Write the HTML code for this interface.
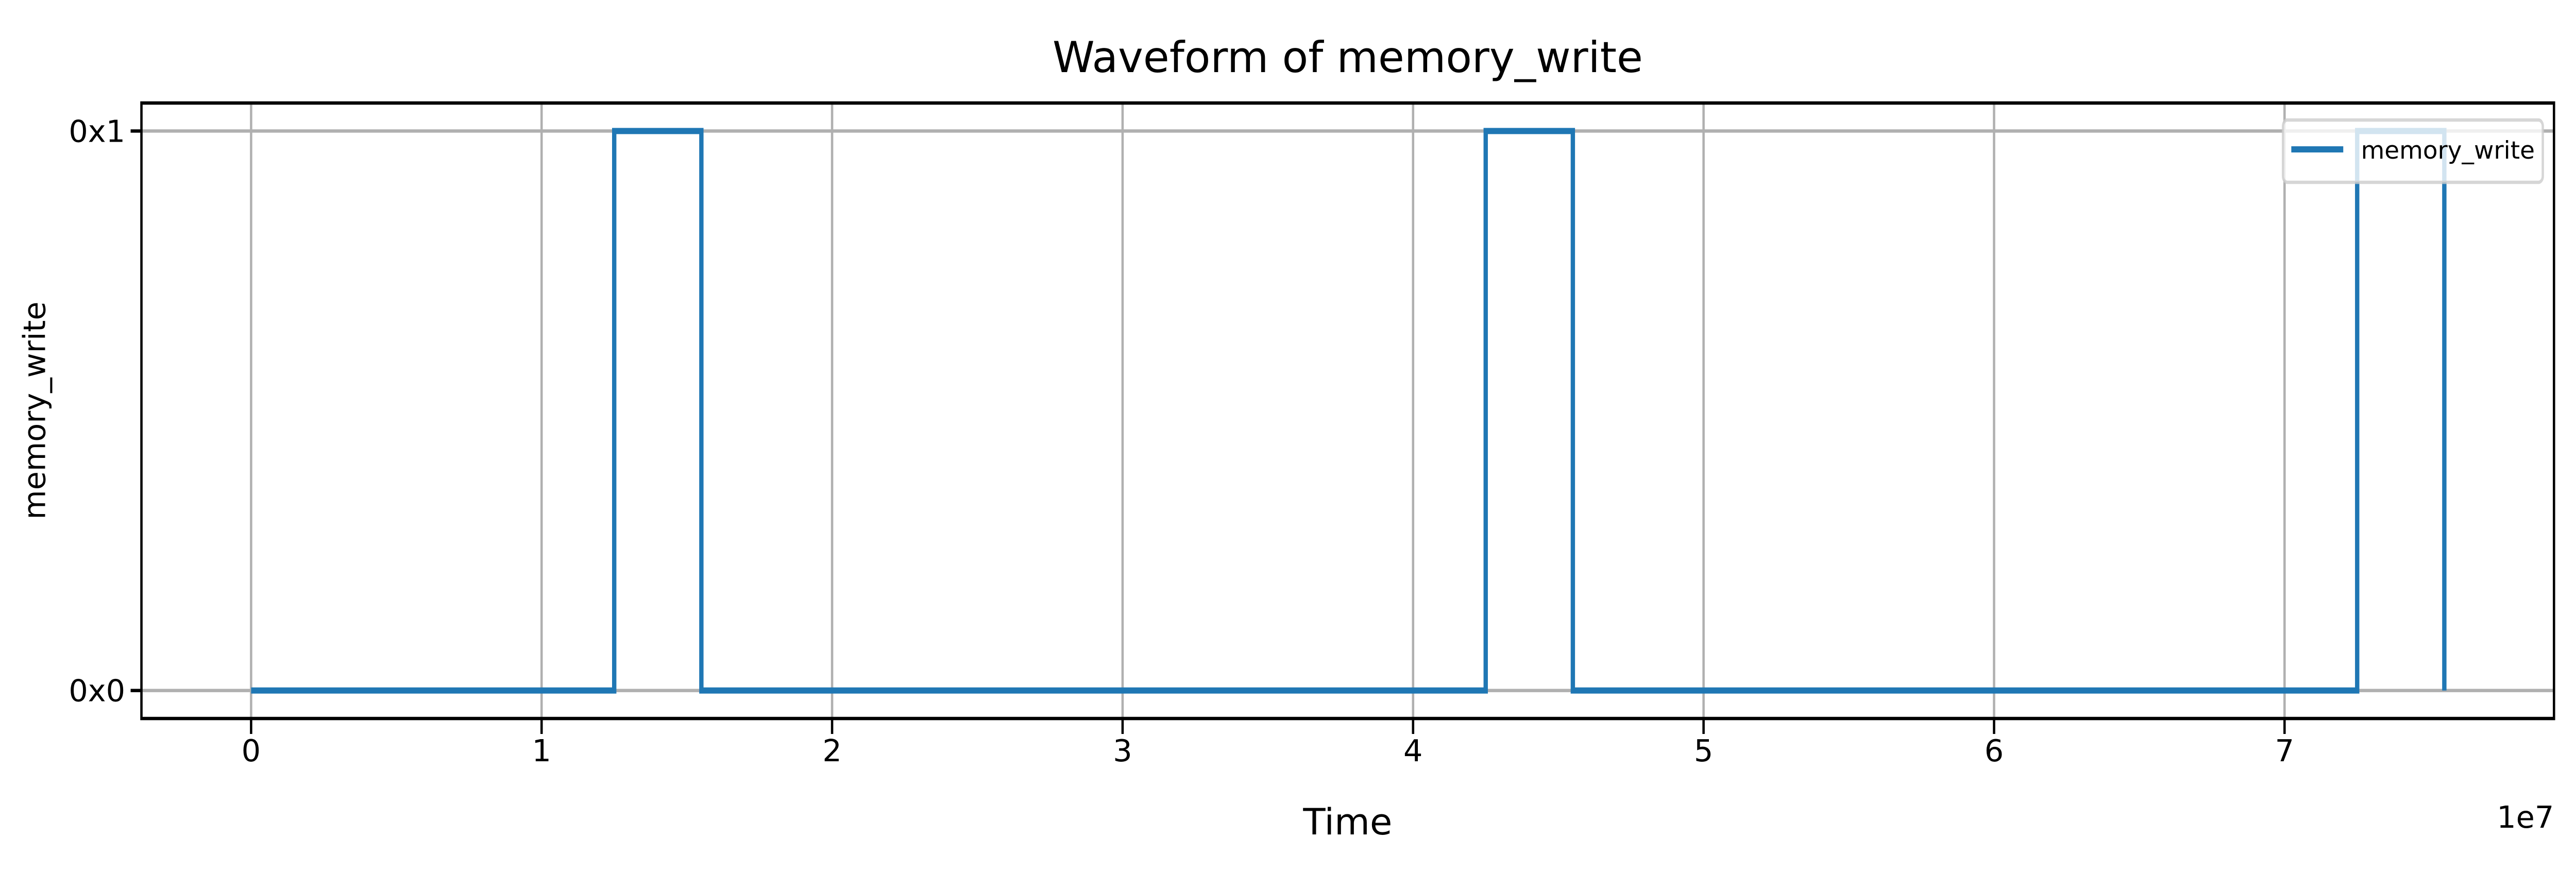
<!DOCTYPE html>
<html><head><meta charset="utf-8"><style>
html,body{margin:0;padding:0;background:#fff;width:100%;height:100%;overflow:hidden;}
svg{display:block;width:100vw;height:100vh;font-family:"DejaVu Sans","Liberation Sans",sans-serif;}
</style></head><body>
<svg id="chart" viewBox="0 0 7139 1726" preserveAspectRatio="none" xmlns="http://www.w3.org/2000/svg">
<rect width="7139" height="1726" fill="#fff"/>
<g id="grid"></g>
<g id="series"></g>
<rect x="392" y="200" width="6686" height="1195" fill="none" stroke="#000" stroke-width="6.5"/>
<g id="ticks"></g>
<text class="fx" x="3735" y="140" font-size="118" text-anchor="middle">Waveform of memory_write</text>
<text class="fx" x="3735" y="1620" font-size="101" text-anchor="middle">Time</text>
<text id="ylab" x="0" y="0" font-size="84" text-anchor="middle">memory_write</text>
<text class="fx" x="7078" y="1607" font-size="84" text-anchor="end">1e7</text>
<g>
<rect x="6327" y="233" width="720" height="121" rx="12" fill="#fff" fill-opacity="0.8" stroke="#cccccc" stroke-opacity="0.8" stroke-width="6.5"/>
<line x1="6350" y1="290" x2="6494" y2="290" stroke="#1f77b4" stroke-width="12"/>
<text class="fx" x="6543" y="308" font-size="67">memory_write</text>
</g>
</svg>
<script>
const transitionTimes = [0, 1.25e7, 1.55e7, 4.25e7, 4.55e7, 7.25e7, 7.55e7];
const stateValues = [0, 1, 0, 1, 0, 1, 0];
const xTickValues = [0, 1, 2, 3, 4, 5, 6, 7];
const yTickValues = [0, 1];
const yTickLabels = ["0x0", "0x1"];

const NS = "http://www.w3.org/2000/svg";
const X0 = 392, X1 = 7078, Y0 = 1395, Y1 = 200;
const xMin = -0.3775e7, xMax = 7.9275e7;
const yMin = -0.05, yMax = 1.05;
function xs(v){ return X0 + (v - xMin) / (xMax - xMin) * (X1 - X0); }
function ys(v){ return Y0 - (v - yMin) / (yMax - yMin) * (Y0 - Y1); }

const grid = document.getElementById('grid');
const ticks = document.getElementById('ticks');
xTickValues.forEach(t => {
  const x = xs(t * 1e7);
  const g = document.createElementNS(NS, 'line');
  g.setAttribute('x1', x); g.setAttribute('x2', x); g.setAttribute('y1', Y1); g.setAttribute('y2', Y0);
  g.setAttribute('stroke', '#b0b0b0'); g.setAttribute('stroke-width', '6.5');
  
  
  grid.appendChild(g);
  const tk = document.createElementNS(NS, 'line');
  tk.setAttribute('x1', x); tk.setAttribute('x2', x); tk.setAttribute('y1', Y0); tk.setAttribute('y2', Y0 + 30);
  tk.setAttribute('stroke', '#000'); tk.setAttribute('stroke-width', '6.5');
  
  
  ticks.appendChild(tk);
  const lb = document.createElementNS(NS, 'text');
  lb.setAttribute('x', x); lb.setAttribute('y', 1478);
  lb.setAttribute('font-size', '84'); lb.setAttribute('text-anchor', 'middle');
  lb.setAttribute('class', 'fx');
  lb.textContent = String(t);
  
  
  ticks.appendChild(lb);
});
yTickValues.forEach((v, i) => {
  const y = ys(v);
  const g = document.createElementNS(NS, 'line');
  g.setAttribute('x1', X0); g.setAttribute('x2', X1); g.setAttribute('y1', y); g.setAttribute('y2', y);
  g.setAttribute('stroke', '#b0b0b0'); g.setAttribute('stroke-width', '6.5');
  
  
  grid.appendChild(g);
  const tk = document.createElementNS(NS, 'line');
  tk.setAttribute('x1', X0 - 30); tk.setAttribute('x2', X0); tk.setAttribute('y1', y); tk.setAttribute('y2', y);
  tk.setAttribute('stroke', '#000'); tk.setAttribute('stroke-width', '6.5');
  
  
  ticks.appendChild(tk);
  const lb = document.createElementNS(NS, 'text');
  lb.setAttribute('x', X0 - 45); lb.setAttribute('y', y + 21);
  lb.setAttribute('font-size', '84'); lb.setAttribute('text-anchor', 'end');
  lb.setAttribute('class', 'fx');
  lb.textContent = yTickLabels[i];
  
  
  ticks.appendChild(lb);
});

let d = '';
for (let i = 0; i < transitionTimes.length; i++) {
  const x = xs(transitionTimes[i]);
  if (i === 0) d += 'M' + x + ' ' + ys(stateValues[0]);
  else d += ' L' + x + ' ' + ys(stateValues[i - 1]) + ' L' + x + ' ' + ys(stateValues[i]);
}
const path = document.createElementNS(NS, 'path');
path.setAttribute('d', d);
path.setAttribute('fill', 'none'); path.setAttribute('stroke', '#1f77b4'); path.setAttribute('stroke-width', '12');


document.getElementById('series').appendChild(path);

// compensate anisotropic viewport stretch: keep natural glyph proportions at matching width
const vw = window.innerWidth || 7139, vh = window.innerHeight || 1726;
let sx = (vw / 7139) / (vh / 1726);
if (!isFinite(sx) || sx <= 0) sx = 1;
const k = 1 / sx;
document.querySelectorAll('text.fx').forEach(t => {
  const x = parseFloat(t.getAttribute('x'));
  t.setAttribute('font-size', parseFloat(t.getAttribute('font-size')) * sx);
  t.setAttribute('transform', 'translate(' + x + ',0) scale(' + k + ',1) translate(' + (-x) + ',0)');
});
const yl = document.getElementById('ylab');
yl.setAttribute('font-size', 84 * sx);
yl.setAttribute('transform', 'translate(125,797) scale(' + k + ',1) rotate(-90)');
</script>
</body></html>
